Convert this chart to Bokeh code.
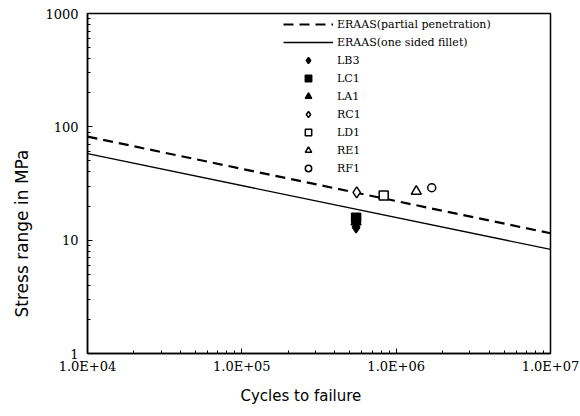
from bokeh.plotting import figure
from bokeh.models import FixedTicker, CustomJSTickFormatter, Legend, LegendItem, Title
from bokeh.embed import file_html
from bokeh.resources import INLINE

# ---- data ----
line_x = [1e4, 1e7]
eraas_partial = [82, 11.5]
eraas_fillet = [58, 8.3]

series_names = ["LB3", "LC1", "LA1", "RC1", "LD1", "RE1", "RF1"]
series_x = [5.5e5, 5.5e5, 5.5e5, 5.55e5, 8.3e5, 1.35e6, 1.7e6]
series_y = [13.0, 15.8, 14.5, 26.4, 24.8, 27.0, 29.0]
series_marker = ["diamond", "square", "triangle", "diamond", "square", "triangle", "circle"]
series_filled = [True, True, True, False, False, False, False]
series_size = [11, 9, 10, 11, 9, 10, 8]

x_ticks = [1e4, 1e5, 1e6, 1e7]
y_ticks = [1, 10, 100, 1000]

x_minor = [m * 10 ** e for e in range(4, 7) for m in range(2, 10)]
y_minor = [m * 10 ** e for e in range(0, 3) for m in range(2, 10)]

x_title = "Cycles to failure"
y_title = "Stress range in MPa"

p = figure(width=580, height=416, x_axis_type="log", y_axis_type="log",
           x_range=(1e4, 1e7), y_range=(1, 1000),
           output_backend="svg", toolbar_location=None,
           min_border_left=87, min_border_right=30, min_border_top=13, min_border_bottom=63)

p.xgrid.visible = False
p.ygrid.visible = False
p.outline_line_color = "black"
p.outline_line_width = 1.5
p.background_fill_color = "white"
p.border_fill_color = "white"

for ax, ticks, minor in ((p.xaxis[0], x_ticks, x_minor), (p.yaxis[0], y_ticks, y_minor)):
    ax.ticker = FixedTicker(ticks=ticks, minor_ticks=minor)
    ax.axis_line_color = "black"
    ax.axis_line_width = 1.5
    ax.major_tick_in = 5
    ax.major_tick_out = 0
    ax.minor_tick_in = 3
    ax.minor_tick_out = 0
    ax.major_tick_line_color = "black"
    ax.minor_tick_line_color = "black"
    ax.major_label_text_font = "DejaVu Serif"
    ax.major_label_text_font_size = "13px"
    ax.major_label_text_color = "black"

p.xaxis[0].formatter = CustomJSTickFormatter(
    code="return tick.toExponential(1).toUpperCase().replace('E+', 'E+0');")
p.yaxis[0].formatter = CustomJSTickFormatter(code="return tick.toFixed(0);")
p.xaxis[0].major_label_standoff = 5
p.yaxis[0].major_label_standoff = 9

# axis titles placed as side titles so they can sit off-centre like the reference
xt = Title(text=x_title, align="left", offset=153, text_font="DejaVu Sans",
           text_font_size="15px", text_font_style="normal", text_color="black",
           standoff=16, vertical_align="bottom")
yt = Title(text=y_title, align="left", offset=36, text_font="DejaVu Sans",
           text_font_size="17px", text_font_style="normal", text_color="black",
           standoff=18, vertical_align="top")
p.add_layout(xt, "below")
p.add_layout(yt, "left")

items = []
r1 = p.line(line_x, eraas_partial, line_color="black", line_width=2.2, line_dash="10 6")
items.append(LegendItem(label="ERAAS(partial penetration)", renderers=[r1]))
r2 = p.line(line_x, eraas_fillet, line_color="black", line_width=1.3)
items.append(LegendItem(label="ERAAS(one sided fillet)", renderers=[r2]))

for name, x, y, mk, filled, sz in zip(series_names, series_x, series_y,
                                       series_marker, series_filled, series_size):
    r = p.scatter([x], [y], marker=mk, size=sz,
                  fill_color="black" if filled else "white",
                  line_color="black", line_width=1.5)
    items.append(LegendItem(label=name, renderers=[r]))

legend = Legend(items=items, location=(196, 177))
legend.background_fill_alpha = 0
legend.border_line_color = None
legend.label_text_font = "DejaVu Serif"
legend.label_text_font_size = "11px"
legend.label_text_color = "black"
legend.glyph_width = 50
legend.glyph_height = 16
legend.label_height = 16
legend.spacing = 2
legend.padding = 0
legend.margin = 0
legend.label_standoff = 4
p.add_layout(legend, "center")

open("out.html", "w").write(file_html(p, INLINE))
